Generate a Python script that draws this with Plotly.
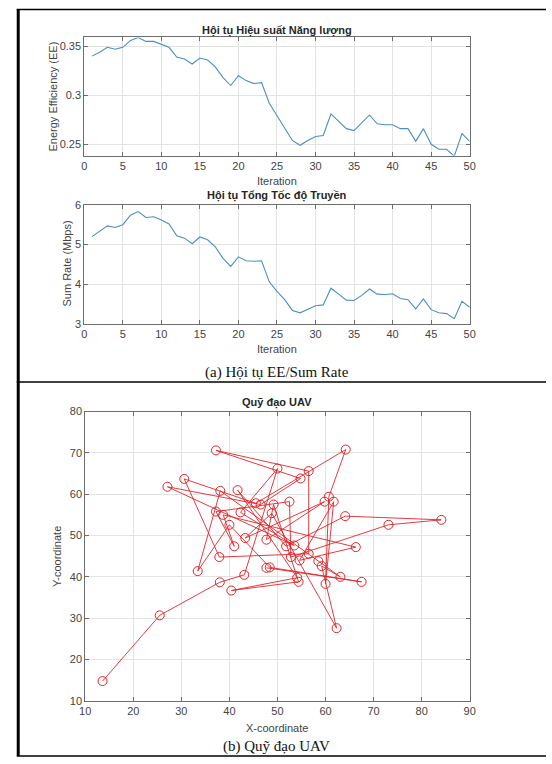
import plotly.graph_objects as go

W, H = 552, 764

iterations = list(range(1, 51))
ee_values = [0.340, 0.344, 0.349, 0.347, 0.349, 0.356, 0.359, 0.355, 0.355, 0.352,
             0.349, 0.339, 0.337, 0.332, 0.338, 0.336, 0.329, 0.318, 0.310, 0.320,
             0.315, 0.312, 0.313, 0.292, 0.279, 0.267, 0.254, 0.249, 0.254, 0.258,
             0.259, 0.281, 0.273, 0.266, 0.264, 0.272, 0.280, 0.271, 0.270, 0.270,
             0.266, 0.266, 0.253, 0.266, 0.250, 0.245, 0.245, 0.238, 0.261, 0.253]
sum_rate = [5.20, 5.33, 5.47, 5.43, 5.50, 5.74, 5.83, 5.68, 5.70, 5.62,
            5.52, 5.22, 5.16, 5.02, 5.19, 5.12, 4.94, 4.65, 4.45, 4.69,
            4.59, 4.58, 4.59, 4.06, 3.82, 3.61, 3.34, 3.28, 3.37, 3.46,
            3.48, 3.90, 3.75, 3.60, 3.59, 3.72, 3.88, 3.75, 3.74, 3.76,
            3.64, 3.61, 3.38, 3.63, 3.36, 3.28, 3.26, 3.13, 3.57, 3.42]

uav_x = [13.6, 25.5, 38.0, 43.1, 50.0, 42.3, 53.5, 27.1, 46.5, 54.8,
         37.2, 56.5, 56.5, 37.9, 30.6, 45.5, 64.2, 60.7, 60.0, 61.7,
         54.6, 66.3, 38.7, 41.0, 37.2, 52.5, 52.8, 73.1, 84.1, 64.1,
         51.8, 41.7, 54.1, 40.4, 54.4, 49.2, 47.7, 59.8, 43.3, 48.8,
         62.3, 59.2, 63.1, 58.5, 38.1, 33.4, 40.0, 48.4, 67.5, 47.7]
uav_y = [14.8, 30.7, 38.7, 40.5, 66.2, 55.6, 47.6, 61.8, 57.5, 63.8,
         70.6, 65.6, 45.6, 44.8, 63.7, 57.8, 70.8, 59.4, 38.3, 58.2,
         44.0, 47.2, 55.0, 47.4, 55.8, 58.2, 44.8, 52.6, 53.8, 54.7,
         47.4, 61.0, 39.8, 36.7, 38.8, 57.5, 49.0, 58.2, 49.4, 55.4,
         27.6, 42.6, 40.0, 43.8, 60.8, 41.4, 52.6, 42.3, 38.8, 42.2]

iter_ticks = list(range(0, 51, 5))
ee_ticks = [0.25, 0.3, 0.35]
ee_ticktext = ["0.25", "0.3", "0.35"]
rate_ticks = [3, 4, 5, 6]
coord_ticks = list(range(10, 91, 10))
ycoord_ticks = list(range(10, 81, 10))


def px(x):
    return x / W


def py(y):
    return 1 - y / H


FONT = "Liberation Sans, Arial, sans-serif"
SERIF = "Liberation Serif, Times New Roman, serif"
LINE_BLUE = "#4a8fc4"
TICK_COLOR = "#444444"
FRAME = "#6e6e6e"
GRID = "#e3e3e3"

fig = go.Figure()
fig.add_trace(go.Scatter(x=iterations, y=ee_values, mode="lines",
                         line=dict(color=LINE_BLUE, width=1.1),
                         xaxis="x", yaxis="y", showlegend=False))
fig.add_trace(go.Scatter(x=iterations, y=sum_rate, mode="lines",
                         line=dict(color=LINE_BLUE, width=1.1),
                         xaxis="x2", yaxis="y2", showlegend=False))
fig.add_trace(go.Scatter(x=uav_x, y=uav_y, mode="lines+markers",
                         line=dict(color="#e0262b", width=0.9),
                         marker=dict(symbol="circle-open", size=9,
                                     color="#e0262b", line=dict(width=1)),
                         xaxis="x3", yaxis="y3", showlegend=False))

common = dict(showgrid=True, gridcolor=GRID, gridwidth=1, zeroline=False,
              showline=True, linecolor=FRAME, linewidth=1, mirror="ticks",
              ticks="inside", ticklen=4, tickcolor=FRAME,
              tickfont=dict(family=FONT, size=11, color=TICK_COLOR))

xdom = [px(80), px(474)]
fig.update_layout(
    width=W, height=H, margin=dict(l=0, r=0, t=0, b=0),
    paper_bgcolor="white", plot_bgcolor="white",
    xaxis=dict(domain=xdom, range=[0, 50], tickvals=iter_ticks, anchor="y", **common),
    yaxis=dict(domain=[py(152), py(32)], range=[0.2385, 0.359],
               tickvals=ee_ticks, ticktext=ee_ticktext, anchor="x", **common),
    xaxis2=dict(domain=xdom, range=[0, 50], tickvals=iter_ticks, anchor="y2", **common),
    yaxis2=dict(domain=[py(323), py(202)], range=[3, 6], tickvals=rate_ticks,
                anchor="x2", **common),
    xaxis3=dict(domain=[px(81), px(474)], range=[10, 90], tickvals=coord_ticks,
                anchor="y3", **common),
    yaxis3=dict(domain=[py(706), py(412)], range=[10, 80], tickvals=ycoord_ticks,
                anchor="x3", **common),
)

ann = []


def text(x, y, s, size=11, bold=False, family=FONT, color="#262626", angle=0):
    ann.append(dict(x=px(x), y=py(y), xref="paper", yref="paper",
                    text=("<b>%s</b>" % s) if bold else s, showarrow=False,
                    font=dict(family=family, size=size, color=color),
                    textangle=angle, xanchor="center", yanchor="middle"))


text(277, 25, "Hội tụ Hiệu suất Năng lượng", size=11, bold=True)
text(277, 178, "Iteration", size=11, color=TICK_COLOR)
text(48, 92, "Energy Efficiency (EE)", size=11, color=TICK_COLOR, angle=-90)
text(277, 193, "Hội tụ Tổng Tốc độ Truyền", size=11, bold=True)
text(277, 348, "Iteration", size=11, color=TICK_COLOR)
text(62, 262, "Sum Rate (Mbps)", size=11, color=TICK_COLOR, angle=-90)
text(277, 372, "(a) Hội tụ EE/Sum Rate", size=15, family=SERIF, color="#111111")
text(277, 403, "Quỹ đạo UAV", size=11, bold=True)
text(277, 734, "X-coordinate", size=11, color=TICK_COLOR)
text(52, 559, "Y-coordinate", size=11, color=TICK_COLOR, angle=-90)
text(277, 752, "(b) Quỹ đạo UAV", size=15, family=SERIF, color="#111111")
fig.update_layout(annotations=ann)

shapes = [
    dict(type="line", xref="paper", yref="paper", x0=px(12.5), x1=px(12.5),
         y0=py(3), y1=py(762), line=dict(color="black", width=3)),
    dict(type="line", xref="paper", yref="paper", x0=px(11), x1=1,
         y0=py(3.5), y1=py(3.5), line=dict(color="black", width=1.5)),
    dict(type="line", xref="paper", yref="paper", x0=px(11), x1=1,
         y0=py(382), y1=py(382), line=dict(color="black", width=1.5)),
    dict(type="line", xref="paper", yref="paper", x0=px(11), x1=1,
         y0=py(762), y1=py(762), line=dict(color="black", width=1.5)),
]
fig.update_layout(shapes=shapes)

fig.write_html("out.html")
